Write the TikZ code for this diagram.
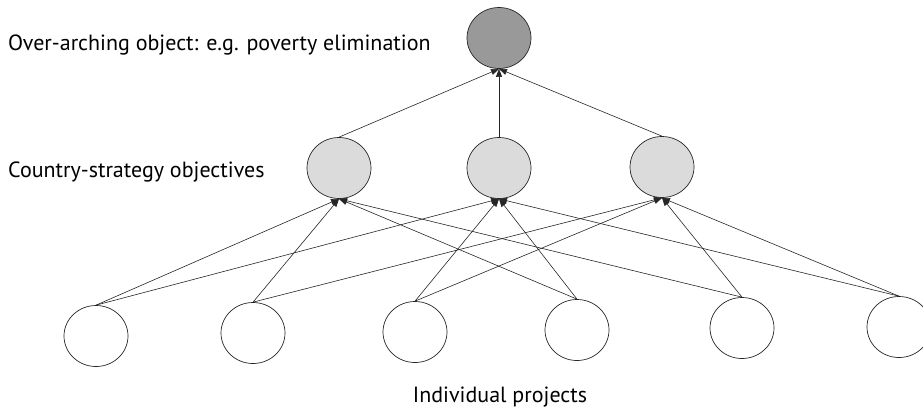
\documentclass[tikz,border=0pt]{standalone}
\usepackage{fontspec}
\setmainfont{PT Sans}
\usetikzlibrary{arrows.meta,shapes.geometric}
\begin{document}
\begin{tikzpicture}[x=1pt,y=-1pt,
  bubble/.style={draw=black!85,line width=0.7pt,ellipse,inner sep=0pt,
                 minimum width=64pt,minimum height=61pt},
  topgoal/.style={bubble,fill=black!40},
  midgoal/.style={bubble,fill=black!14},
  project/.style={bubble,fill=white},
  link/.style={draw=black!85,line width=0.6pt,-{Triangle[length=8pt,width=6pt]}},
  label/.style={inner sep=0pt,font=\fontsize{22}{26}\selectfont}]
\useasboundingbox (0,0) rectangle (923,408);
\clip (0,0) rectangle (923,408);

% over-arching objective
\node[topgoal] (top) at (499,38) {};

% country-strategy objectives
\node[midgoal] (m1) at (339,168) {};
\node[midgoal] (m2) at (499,168) {};
\node[midgoal] (m3) at (662,167) {};

% individual projects
\node[project] (b1) at (96,336) {};
\node[project] (b2) at (253,333) {};
\node[project] (b3) at (415,332) {};
\node[project] (b4) at (577,330) {};
\node[project] (b5) at (742,328) {};
\node[project] (b6) at (899,327) {};

% labels
\node[label,anchor=base west] (ltop) at (8,50) {Over-arching object: e.g. poverty elimination};
\node[label,anchor=base west] (lmid) at (8,177) {Country-strategy objectives};
\node[label,anchor=base] (lbot) at (500,402) {Individual projects};

% objectives feed the over-arching object
\foreach \m in {m1,m2,m3}
  \draw[link] (\m.north) -- (top.south);

% each project serves two objectives
\foreach \b/\m in {b1/m1,b1/m2,b2/m1,b2/m3,b3/m2,b3/m3,
                   b4/m1,b4/m2,b5/m1,b5/m3,b6/m2,b6/m3}
  \draw[link] (\b.north) -- (\m.south);
\end{tikzpicture}
\end{document}
